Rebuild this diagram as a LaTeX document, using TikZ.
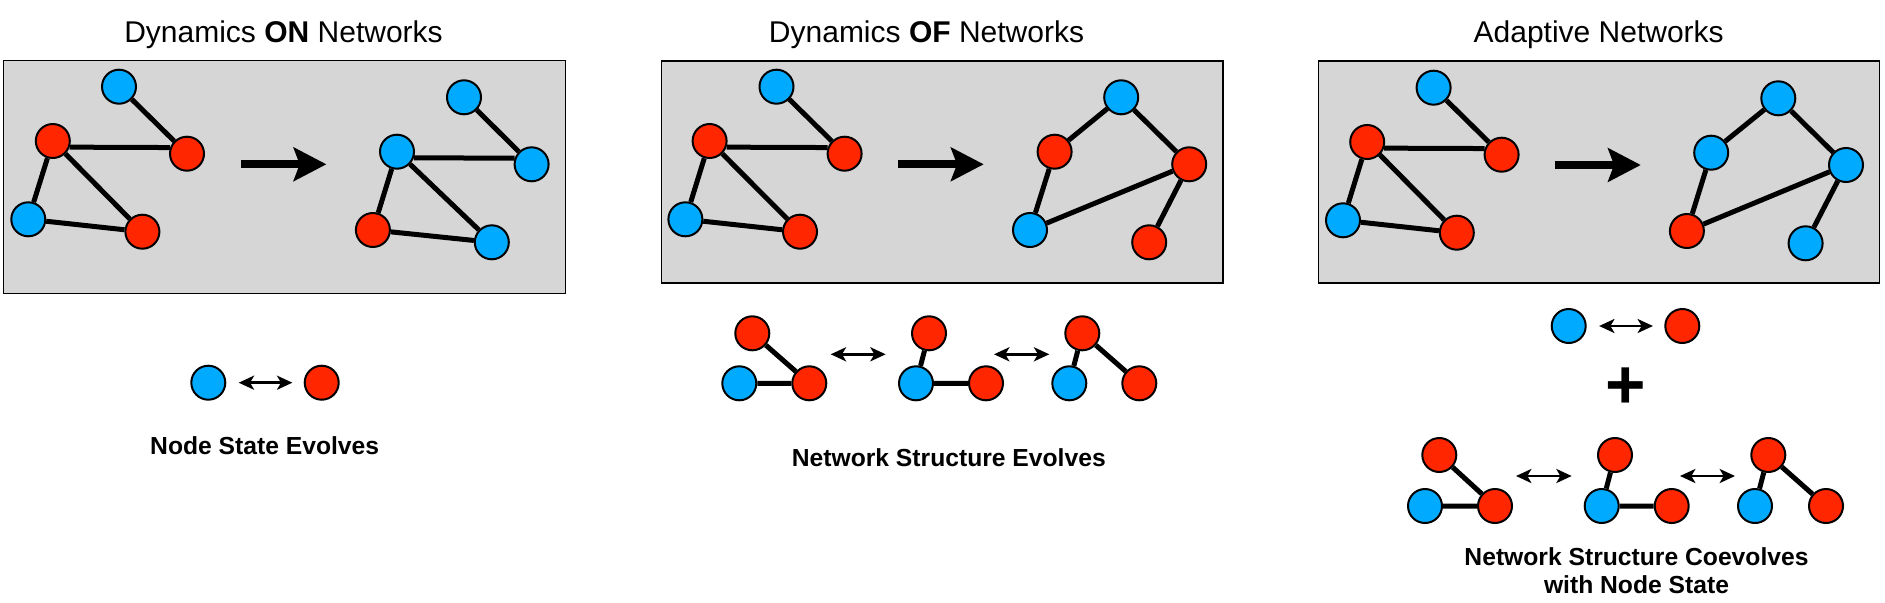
\documentclass[tikz,border=0pt]{standalone}
\usepackage{fontspec}
\setmainfont{Liberation Sans}
\usetikzlibrary{arrows.meta}

\definecolor{nodeblue}{RGB}{0,170,255}
\definecolor{nodered}{RGB}{255,38,0}
\definecolor{panelgray}{RGB}{214,214,214}

\tikzset{every picture/.style={line width=0.75pt}}
\tikzset{
  blu/.style={circle, draw=black, line width=1.5pt, fill=nodeblue, minimum size=25.5pt, inner sep=0pt},
  rd/.style={circle, draw=black, line width=1.5pt, fill=nodered, minimum size=25.5pt, inner sep=0pt},
  lnk/.style={line width=3.75pt},
  panel/.style={draw=black, line width=1pt, fill=panelgray},
  bigarrow/.style={line width=6.2pt, -{Stealth[length=24.5pt,width=25pt,inset=4.5pt]}},
  dblarrow/.style={line width=2.1pt, {Stealth[length=11.5pt,width=10.5pt,inset=3pt]}-{Stealth[length=11.5pt,width=10.5pt,inset=3pt]}},
  ttl/.style={inner sep=0pt, anchor=base, font=\fontsize{22.5}{27}\selectfont},
  lbl/.style={inner sep=0pt, anchor=base, font=\fontsize{18.5}{22}\selectfont\bfseries}
}

\begin{document}
\begin{tikzpicture}[x=0.75pt,y=0.75pt,yscale=-1,xscale=1]
\useasboundingbox (0,0) rectangle (1885,603);

%Shape: Rectangle
\draw [panel] (3.7,60.7) rectangle (565.8,293.3);
\draw [panel] (661.5,61) rectangle (1223.1,283);
\draw [panel] (1318.7,61) rectangle (1879.8,283);

% Text Node
\node (ttlOn) [ttl] at (283.5,42.7) {Dynamics \textbf{ON} Networks};
% Text Node
\node (ttlOf) [ttl] at (926.5,42.7) {Dynamics \textbf{OF} Networks};
% Text Node
\node (ttlAd) [ttl] at (1598.7,42.7) {Adaptive Networks};

%Shape: Circle
\node (on1) [blu] at (119,86.7) {};
\node (on2) [rd] at (187,153.7) {};
\node (on3) [rd] at (52.8,141) {};
\node (on4) [blu] at (28.3,219.3) {};
\node (on5) [rd] at (142.4,231.7) {};
\node (on6) [blu] at (464,97.3) {};
\node (on7) [blu] at (531.6,164.3) {};
\node (on8) [blu] at (397,151.7) {};
\node (on9) [rd] at (372.9,230) {};
\node (on10) [blu] at (491.8,242.3) {};
%Straight Lines
\draw [lnk] (on1) -- (on2) (on3.-20) -- (on2.160) (on3) -- (on4) (on3) -- (on5) (on4) -- (on5);
\draw [lnk] (on6) -- (on7) (on8.-20) -- (on7.160) (on8) -- (on9) (on8) -- (on10) (on9) -- (on10);
\coordinate (onS) at (240.5,164.3);
\coordinate (onE) at (326.4,164.3);
\draw [bigarrow] (onS) -- (onE);

%Shape: Circle
\node (of1) [blu] at (776.5,86.7) {};
\node (of2) [rd] at (844.6,153.7) {};
\node (of3) [rd] at (709.6,141) {};
\node (of4) [blu] at (685.4,219.3) {};
\node (of5) [rd] at (800,231.7) {};
\node (of6) [blu] at (1121.2,97.3) {};
\node (of7) [rd] at (1189.2,164.3) {};
\node (of8) [rd] at (1054.6,151.7) {};
\node (of9) [blu] at (1030,230) {};
\node (of10) [rd] at (1149.2,242.3) {};
%Straight Lines
\draw [lnk] (of1) -- (of2) (of3.-20) -- (of2.160) (of3) -- (of4) (of3) -- (of5) (of4) -- (of5);
\draw [lnk] (of6) -- (of8) (of6) -- (of7) (of8) -- (of9) (of9) -- (of7) (of7) -- (of10);
\coordinate (ofS) at (897.8,164.3);
\coordinate (ofE) at (983.7,164.3);
\draw [bigarrow] (ofS) -- (ofE);

%Shape: Circle
\node (ad1) [blu] at (1433.6,87.7) {};
\node (ad2) [rd] at (1501.6,154.7) {};
\node (ad3) [rd] at (1367.2,142) {};
\node (ad4) [blu] at (1343,220.3) {};
\node (ad5) [rd] at (1456.8,232.7) {};
\node (ad6) [blu] at (1778.3,98.3) {};
\node (ad7) [blu] at (1846,165) {};
\node (ad8) [blu] at (1711.2,152.7) {};
\node (ad9) [rd] at (1686.9,231) {};
\node (ad10) [blu] at (1805.6,243.3) {};
%Straight Lines
\draw [lnk] (ad1) -- (ad2) (ad3.-20) -- (ad2.160) (ad3) -- (ad4) (ad3) -- (ad5) (ad4) -- (ad5);
\draw [lnk] (ad6) -- (ad8) (ad6) -- (ad7) (ad8) -- (ad9) (ad9) -- (ad7) (ad7) -- (ad10);
\coordinate (adS) at (1554.7,165);
\coordinate (adE) at (1640.8,165);
\draw [bigarrow] (adS) -- (adE);

% node state, ON
\node (onB) [blu] at (208.3,382.7) {};
\node (onR) [rd] at (321.7,382.7) {};
\draw [dblarrow, shorten <=9.3pt, shorten >=8.5pt] (onB) -- (onR);
% Text Node
\node (lblOn) [lbl] at (264.7,454) {Node State Evolves};

% triads, OF
\node (ofT1b) [blu] at (739.3,383.3) {};
\node (ofT1t) [rd] at (752.3,333.3) {};
\node (ofT1r) [rd] at (809.3,383.3) {};
\draw [lnk] (ofT1t) -- (ofT1r) (ofT1b) -- (ofT1r);
\node (ofT2b) [blu] at (916,383.3) {};
\node (ofT2t) [rd] at (929,333.3) {};
\node (ofT2r) [rd] at (986,383.3) {};
\draw [lnk] (ofT2t) -- (ofT2b) (ofT2b) -- (ofT2r);
\node (ofT3b) [blu] at (1069.3,383.3) {};
\node (ofT3t) [rd] at (1082.3,333.3) {};
\node (ofT3r) [rd] at (1139.3,383.3) {};
\draw [lnk] (ofT3t) -- (ofT3b) (ofT3t) -- (ofT3r);
\coordinate (ofA1) at (830.7,354.3);
\coordinate (ofA2) at (885.7,354.3);
\coordinate (ofA3) at (994,354.3);
\coordinate (ofA4) at (1049.3,354.3);
\draw [dblarrow] (ofA1) -- (ofA2);
\draw [dblarrow] (ofA3) -- (ofA4);
% Text Node
\node (lblOf) [lbl] at (948.8,466.7) {Network Structure Evolves};

% node state, adaptive
\node (adB) [blu] at (1568.7,326) {};
\node (adR) [rd] at (1682.3,326) {};
\draw [dblarrow, shorten <=9.3pt, shorten >=8.5pt] (adB) -- (adR);
% Text Node
\node (plus) [inner sep=0pt, font=\fontsize{52}{52}\selectfont\bfseries] at (1625.8,388.5) {+};

% triads, adaptive
\node (adT1b) [blu] at (1425,506) {};
\node (adT1t) [rd] at (1439.3,455) {};
\node (adT1r) [rd] at (1495,506) {};
\draw [lnk] (adT1t) -- (adT1r) (adT1b) -- (adT1r);
\node (adT2b) [blu] at (1601.7,506) {};
\node (adT2t) [rd] at (1615,455) {};
\node (adT2r) [rd] at (1671.7,506) {};
\draw [lnk] (adT2t) -- (adT2b) (adT2b) -- (adT2r);
\node (adT3b) [blu] at (1755,506) {};
\node (adT3t) [rd] at (1768.3,455) {};
\node (adT3r) [rd] at (1826,506) {};
\draw [lnk] (adT3t) -- (adT3b) (adT3t) -- (adT3r);
\coordinate (adA1) at (1516,476);
\coordinate (adA2) at (1571.7,476);
\coordinate (adA3) at (1680,476);
\coordinate (adA4) at (1735,476);
\draw [dblarrow] (adA1) -- (adA2);
\draw [dblarrow] (adA3) -- (adA4);
% Text Node
\node (lblAd1) [lbl] at (1636.5,565) {Network Structure Coevolves};
% Text Node
\node (lblAd2) [lbl] at (1636.5,593.3) {with Node State};

\end{tikzpicture}
\end{document}
